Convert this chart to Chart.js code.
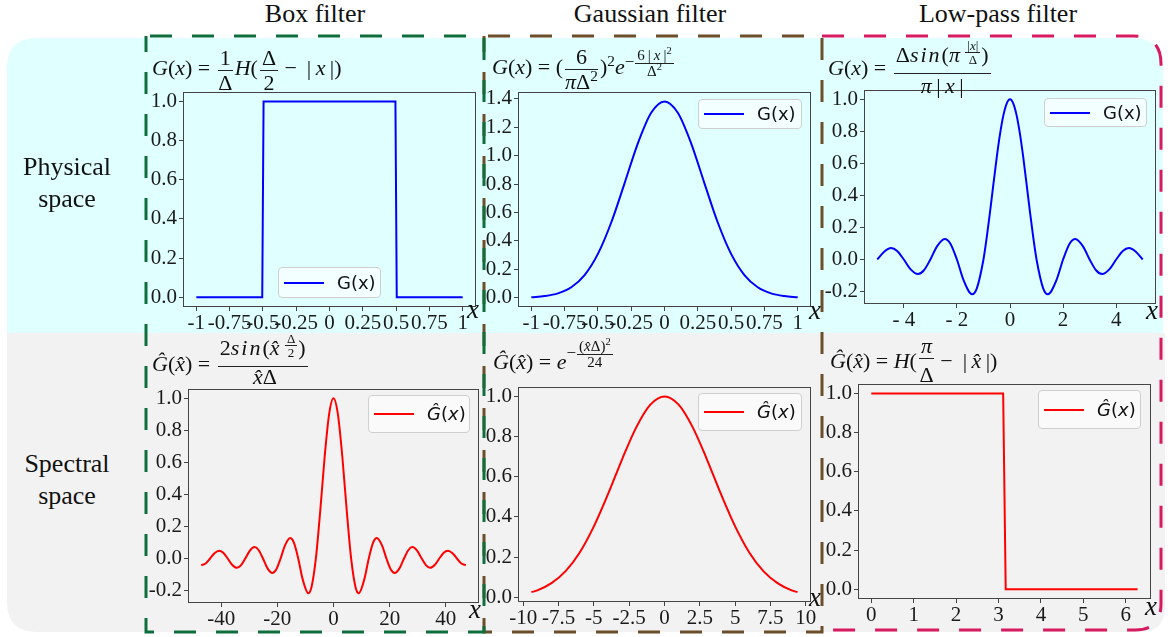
<!DOCTYPE html>
<html>
<head>
<meta charset="utf-8">
<script src="https://cdn.jsdelivr.net/npm/chart.js@4.4.1/dist/chart.umd.min.js"></script>
<style>
body{margin:0;width:1171px;height:637px;position:relative;background:#fff;overflow:hidden}
svg{position:absolute;left:0;top:0}
.box{position:absolute}
.t{position:absolute;font-family:'Liberation Serif',serif;color:#111;white-space:nowrap;text-align:center}
.ttl{font-size:26px;line-height:26px;width:300px}
.row{font-size:26px;line-height:32px;width:140px}
.ax{position:absolute;font-family:'Liberation Serif',serif;font-style:italic;font-size:27px;line-height:27px;color:#111}
.f{position:absolute;font-family:'Liberation Serif',serif;font-size:22px;line-height:20px;color:#111;white-space:nowrap}
.fr{display:inline-block;text-align:center;line-height:20px;margin:0 2px}
.fr .n{display:block;border-bottom:1px solid #222;padding:0 2px 2px 2px}
.fr .d{display:block;padding-top:2px}
.fr.sm{font-size:13px;line-height:11px;margin:0 1px}
.fr.sm .n{padding-bottom:1px}
.fr.sm .d{padding-top:1px}
.ex{display:inline-block;font-size:17px}
.ex .fr{vertical-align:middle}
.ex .fr.sm{font-size:15px;line-height:13px}
sup{font-size:70%;line-height:0}
.sp{letter-spacing:2px}
.lg{position:absolute;box-sizing:border-box;background:rgba(255,255,255,0.6);border:1px solid #cfcfcf;border-radius:4px;font-family:'DejaVu Sans',sans-serif;font-size:18px;color:#111}
.ln{position:absolute;left:5px;top:50%;width:40px;height:2px;margin-top:-1px}
.lt{position:absolute;left:58px;top:50%;transform:translateY(-50%);line-height:18px}
</style>
</head>
<body>
<svg width="1171" height="637">
  <path d="M7,68 Q7,38 37,38 L1133,38 Q1163,38 1163,68 L1163,333 L7,333 Z" fill="#e0ffff"/>
  <path d="M7,333 L1165,333 L1165,607 Q1165,632 1140,632 L37,632 Q7,632 7,602 Z" fill="#f2f2f2"/>
  <path d="M822,36 L1133,36 Q1161,36 1161,64 L1161,604 Q1161,630 1135,630 L822,630" fill="none" stroke="#d81b60" stroke-width="3" stroke-dasharray="22 20"/>
  <rect x="484" y="36" width="338" height="596" fill="none" stroke="#6b4f2a" stroke-width="3" stroke-dasharray="22 20" stroke-dashoffset="-4"/>
  <rect x="146" y="36" width="338" height="596" fill="none" stroke="#0e6e3c" stroke-width="3" stroke-dasharray="22 20" stroke-dashoffset="-4"/>
</svg>

<div id="charts"></div>

<div class="t ttl" style="left:165px;top:1px">Box filter</div>
<div class="t ttl" style="left:500px;top:1px">Gaussian filter</div>
<div class="t ttl" style="left:848px;top:1px">Low-pass filter</div>
<div class="t row" style="left:-3px;top:151px">Physical<br>space</div>
<div class="t row" style="left:-3px;top:448px">Spectral<br>space</div>

<div class="f" style="left:152px;top:48px"><i>G</i>(<i>x</i>) = <span class="fr" style="vertical-align:-15px"><span class="n">1</span><span class="d">Δ</span></span><i>H</i>(<span class="fr" style="vertical-align:-15px"><span class="n">Δ</span><span class="d">2</span></span>&thinsp;− &thinsp;|&thinsp;<i>x</i>&thinsp;|)</div>
<div class="f" style="left:492px;top:47px"><i>G</i>(<i>x</i>) = (<span class="fr" style="vertical-align:-15px"><span class="n">6</span><span class="d"><i>π</i>Δ<sup>2</sup></span></span>)<sup>2</sup><i>e</i><span class="ex" style="vertical-align:7px">−<span class="fr sm"><span class="n">6&thinsp;|&thinsp;<i>x</i>&thinsp;|<sup>2</sup></span><span class="d">Δ<sup>2</sup></span></span></span></div>
<div class="f" style="left:828px;top:40px"><i>G</i>(<i>x</i>) = <span class="fr" style="vertical-align:-18px"><span class="n" style="padding-bottom:8px">Δ<i class="sp">sin</i>(<i>π</i>&thinsp;<span class="fr sm" style="vertical-align:-2px"><span class="n">|<i>x</i>|</span><span class="d">Δ</span></span>)</span><span class="d"><i>π</i>&thinsp;|&thinsp;<i>x</i>&thinsp;|</span></span></div>
<div class="f" style="left:152px;top:333px"><i>Ĝ</i>(<i>x̂</i>) = <span class="fr" style="vertical-align:-13px"><span class="n" style="padding-bottom:8px">2<i class="sp">sin</i>(<i>x̂</i>&thinsp;<span class="fr sm" style="vertical-align:-2px"><span class="n">Δ</span><span class="d">2</span></span>)</span><span class="d" style="padding-top:0">&thinsp;<i>x̂</i>Δ</span></span></div>
<div class="f" style="left:493px;top:340px"><i>Ĝ</i>(<i>x̂</i>) = <i>e</i><span class="ex" style="vertical-align:11px">−<span class="fr sm"><span class="n">(<i>x̂</i>Δ)<sup>2</sup></span><span class="d">24</span></span></span></div>
<div class="f" style="left:830px;top:336px"><i>Ĝ</i>(<i>x̂</i>) = <i>H</i>(<span class="fr" style="vertical-align:-14px"><span class="n"><i>π</i></span><span class="d" style="padding-top:6px">Δ</span></span>&thinsp;− &thinsp;|&thinsp;<i>x̂</i>&thinsp;|)</div>

<div class="ax" style="left:467px;top:296px">x</div>
<div class="ax" style="left:809px;top:297px">x</div>
<div class="ax" style="left:1146px;top:297px">x</div>
<div class="ax" style="left:469px;top:596px">x</div>
<div class="ax" style="left:809px;top:584px">x</div>
<div class="ax" style="left:1145px;top:593px">x</div>

<div class="lg" style="left:278px;top:267px;width:103px;height:31px"><span class="ln" style="background:#0000ff"></span><span class="lt">G(x)</span></div>
<div class="lg" style="left:698px;top:99px;width:104px;height:30px"><span class="ln" style="background:#0000ff"></span><span class="lt">G(x)</span></div>
<div class="lg" style="left:1044px;top:98px;width:103px;height:29px"><span class="ln" style="background:#0000ff"></span><span class="lt">G(x)</span></div>
<div class="lg" style="left:368px;top:395px;width:102px;height:38px"><span class="ln" style="background:#ff0000"></span><span class="lt"><i>Ĝ</i>(<i>x</i>)</span></div>
<div class="lg" style="left:698px;top:393px;width:104px;height:38px"><span class="ln" style="background:#ff0000"></span><span class="lt"><i>Ĝ</i>(<i>x</i>)</span></div>
<div class="lg" style="left:1038px;top:390px;width:103px;height:39px"><span class="ln" style="background:#ff0000"></span><span class="lt"><i>Ĝ</i>(<i>x</i>)</span></div>

<script>
// physical space
const boxX = [-1, -0.505, -0.495, 0.495, 0.505, 1];
const boxG = [0, 0, 1, 1, 0, 0];

const gaussX = [-1, -0.9, -0.8, -0.7, -0.6, -0.5, -0.4, -0.3, -0.2, -0.1, 0, 0.1, 0.2, 0.3, 0.4, 0.5, 0.6, 0.7, 0.8, 0.9, 1];
const gaussG = [0.003, 0.011, 0.030, 0.073, 0.159, 0.308, 0.529, 0.805, 1.087, 1.302, 1.382, 1.302, 1.087, 0.805, 0.529, 0.308, 0.159, 0.073, 0.030, 0.011, 0.003];

const lpX = [-5, -4.75, -4.48, -4.25, -4, -3.75, -3.47, -3.25, -3, -2.75, -2.46, -2.25, -2, -1.75, -1.43, -1.25, -1, -0.875, -0.75, -0.625, -0.5, -0.375, -0.25, -0.125, 0,
             0.125, 0.25, 0.375, 0.5, 0.625, 0.75, 0.875, 1, 1.25, 1.43, 1.75, 2, 2.25, 2.46, 2.75, 3, 3.25, 3.47, 3.75, 4, 4.25, 4.48, 4.75, 5];
const lpG = [0, 0.047, 0.071, 0.053, 0, -0.060, -0.091, -0.069, 0, 0.082, 0.128, 0.100, 0, -0.129, -0.217, -0.180, 0, 0.139, 0.300, 0.470, 0.637, 0.784, 0.900, 0.974, 1,
             0.974, 0.900, 0.784, 0.637, 0.470, 0.300, 0.139, 0, -0.180, -0.217, -0.129, 0, 0.100, 0.128, 0.082, 0, -0.069, -0.091, -0.060, 0, 0.053, 0.071, 0.047, 0];

// spectral space
const sboxX = [-47.12, -45.55, -43.98, -42.41, -40.73, -39.27, -37.70, -36.13, -34.44, -32.99, -31.42, -29.85, -28.13, -26.70, -25.13, -23.56, -21.81, -20.42, -18.85, -17.28, -15.45, -14.14, -12.57, -11.00, -8.99, -7.85, -6.28, -4.71, -3.14, -1.57, 0,
               1.57, 3.14, 4.71, 6.28, 7.85, 8.99, 11.00, 12.57, 14.14, 15.45, 17.28, 18.85, 20.42, 21.81, 23.56, 25.13, 26.70, 28.13, 29.85, 31.42, 32.99, 34.44, 36.13, 37.70, 39.27, 40.73, 42.41, 43.98, 45.55, 47.12];
const sboxG = [-0.042, -0.031, 0, 0.033, 0.049, 0.036, 0, -0.039, -0.058, -0.043, 0, 0.047, 0.071, 0.053, 0, -0.060, -0.091, -0.069, 0, 0.082, 0.128, 0.100, 0, -0.129, -0.217, -0.180, 0, 0.300, 0.637, 0.900, 1,
               0.900, 0.637, 0.300, 0, -0.180, -0.217, -0.129, 0, 0.100, 0.128, 0.082, 0, -0.069, -0.091, -0.060, 0, 0.053, 0.071, 0.047, 0, -0.043, -0.058, -0.039, 0, 0.036, 0.049, 0.033, 0, -0.031, -0.042];

const sgaussX = [-9.42, -9, -8, -7, -6, -5, -4, -3, -2, -1, 0, 1, 2, 3, 4, 5, 6, 7, 8, 9, 9.42];
const sgaussG = [0.025, 0.034, 0.070, 0.130, 0.223, 0.353, 0.513, 0.687, 0.846, 0.959, 1, 0.959, 0.846, 0.687, 0.513, 0.353, 0.223, 0.130, 0.070, 0.034, 0.025];

const slpX = [0, 3.11, 3.17, 6.28];
const slpG = [1, 1, 0, 0];

// tick labels
const xTicksUnit = [-1, -0.75, -0.5, -0.25, 0, 0.25, 0.5, 0.75, 1];
const xLabelsUnit = ['-1', '-0.75', '-0.5', '-0.25', '0', '0.25', '0.5', '0.75', '1'];
const xTicksLp = [-4, -2, 0, 2, 4];
const xLabelsLp = ['- 4', '- 2', '0', '2', '4'];
const xTicksSbox = [-40, -20, 0, 20, 40];
const xLabelsSbox = ['-40', '-20', '0', '20', '40'];
const xTicksSgauss = [-10, -7.5, -5, -2.5, 0, 2.5, 5, 7.5, 10];
const xLabelsSgauss = ['-10', '-7.5', '-5', '-2.5', '0', '2.5', '5', '7.5', '10'];
const xTicksSlp = [0, 1, 2, 3, 4, 5, 6];
const xLabelsSlp = ['0', '1', '2', '3', '4', '5', '6'];
const yTicks10 = [0, 0.2, 0.4, 0.6, 0.8, 1.0];
const yLabels10 = ['0.0', '0.2', '0.4', '0.6', '0.8', '1.0'];
const yTicks14 = [0, 0.2, 0.4, 0.6, 0.8, 1.0, 1.2, 1.4];
const yLabels14 = ['0.0', '0.2', '0.4', '0.6', '0.8', '1.0', '1.2', '1.4'];
const yTicksNeg = [-0.2, 0, 0.2, 0.4, 0.6, 0.8, 1.0];
const yLabelsNeg = ['-0.2', '0.0', '0.2', '0.4', '0.6', '0.8', '1.0'];

const padTop = 12, padRight = 12, yW = 50, xH = 34;

const frame = {
  id: 'frame',
  afterDraw(c) {
    const a = c.chartArea, g = c.ctx;
    g.save();
    g.strokeStyle = '#444';
    g.lineWidth = 1;
    g.strokeRect(Math.round(a.left) + 0.5, Math.round(a.top) + 0.5, Math.round(a.right - a.left) - 1, Math.round(a.bottom - a.top) - 1);
    g.restore();
  }
};

function axis(range, ticks, labels, isX) {
  return {
    type: 'linear',
    position: isX ? 'bottom' : 'left',
    min: range[0], max: range[1],
    afterBuildTicks: s => { s.ticks = ticks.map(v => ({ value: v })); },
    afterFit: s => { if (isX) s.height = xH; else s.width = yW; },
    grid: { display: true, drawOnChartArea: false, drawTicks: true, tickLength: 4, color: '#444' },
    border: { display: false },
    ticks: {
      autoSkip: false, maxRotation: 0, minRotation: 0,
      padding: isX ? 0 : 2,
      color: '#1a1a1a',
      font: { family: '"Liberation Serif", "Times New Roman", serif', size: 21 },
      callback: (v, i) => labels[i]
    }
  };
}

function plot(o) {
  const r = o.rect;
  const box = document.createElement('div');
  box.className = 'box';
  box.style.left = (r.l - yW) + 'px';
  box.style.top = (r.t - padTop) + 'px';
  box.style.width = (r.r - r.l + yW + padRight) + 'px';
  box.style.height = (r.b - r.t + padTop + xH) + 'px';
  const cv = document.createElement('canvas');
  box.appendChild(cv);
  document.getElementById('charts').appendChild(box);
  new Chart(cv, {
    type: 'line',
    data: {
      datasets: [{
        label: o.label,
        data: o.xs.map((x, i) => ({ x: x, y: o.ys[i] })),
        borderColor: o.color,
        borderWidth: 2,
        pointRadius: 0,
        cubicInterpolationMode: o.smooth ? 'monotone' : 'default',
        tension: 0
      }]
    },
    options: {
      responsive: true,
      maintainAspectRatio: false,
      animation: false,
      layout: { padding: { left: 0, top: padTop, right: padRight, bottom: 0 } },
      plugins: { legend: { display: false }, tooltip: { enabled: false } },
      scales: {
        x: axis(o.xr, o.xt, o.xl, true),
        y: axis(o.yr, o.yt, o.yl, false)
      }
    },
    plugins: [frame]
  });
}

plot({ rect: { l: 183, t: 89, r: 476, b: 307 }, xs: boxX, ys: boxG, color: '#0000ff', label: 'G(x)', smooth: false,
  xr: [-1.1, 1.1], xt: xTicksUnit, xl: xLabelsUnit, yr: [-0.05, 1.05], yt: yTicks10, yl: yLabels10 });
plot({ rect: { l: 518, t: 89, r: 811, b: 307 }, xs: gaussX, ys: gaussG, color: '#0000ff', label: 'G(x)', smooth: true,
  xr: [-1.1, 1.1], xt: xTicksUnit, xl: xLabelsUnit, yr: [-0.066, 1.451], yt: yTicks14, yl: yLabels14 });
plot({ rect: { l: 864, t: 87, r: 1156, b: 304 }, xs: lpX, ys: lpG, color: '#0000ff', label: 'G(x)', smooth: true,
  xr: [-5.5, 5.5], xt: xTicksLp, xl: xLabelsLp, yr: [-0.278, 1.061], yt: yTicksNeg, yl: yLabelsNeg });
plot({ rect: { l: 188, t: 386, r: 479, b: 603 }, xs: sboxX, ys: sboxG, color: '#ff0000', label: 'Ĝ(x)', smooth: true,
  xr: [-51.84, 51.84], xt: xTicksSbox, xl: xLabelsSbox, yr: [-0.278, 1.061], yt: yTicksNeg, yl: yLabelsNeg });
plot({ rect: { l: 518, t: 384, r: 811, b: 602 }, xs: sgaussX, ys: sgaussG, color: '#ff0000', label: 'Ĝ(x)', smooth: true,
  xr: [-10.37, 10.37], xt: xTicksSgauss, xl: xLabelsSgauss, yr: [-0.024, 1.049], yt: yTicks10, yl: yLabels10 });
plot({ rect: { l: 858, t: 381, r: 1151, b: 599 }, xs: slpX, ys: slpG, color: '#ff0000', label: 'Ĝ(x)', smooth: false,
  xr: [-0.314, 6.597], xt: xTicksSlp, xl: xLabelsSlp, yr: [-0.05, 1.05], yt: yTicks10, yl: yLabels10 });
</script>
</body>
</html>
